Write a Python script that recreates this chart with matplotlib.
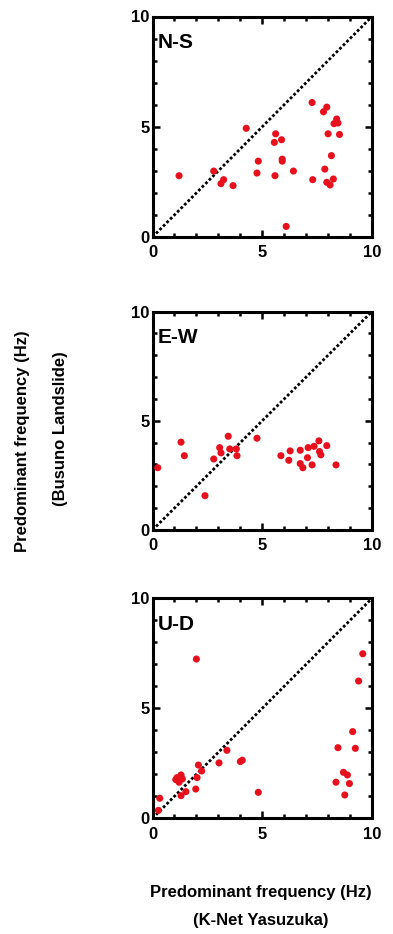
import matplotlib
matplotlib.use("Agg")
import matplotlib.pyplot as plt
from matplotlib.ticker import MultipleLocator

plt.rcParams['font.family'] = ['Liberation Sans', 'DejaVu Sans']

# N-S component
ns_x = [1.21, 2.79, 3.12, 3.24, 3.67, 4.27, 4.76, 4.82, 5.58, 5.55, 5.61, 5.88, 5.91, 5.91,
        6.42, 6.09, 7.27, 7.30, 7.79, 7.94, 8.00, 7.85, 8.15, 8.24, 7.94, 8.09, 8.27, 8.39, 8.45, 8.52]
ns_y = [2.78, 2.99, 2.42, 2.60, 2.33, 4.93, 2.90, 3.44, 2.78, 4.29, 4.68, 4.41, 3.53, 3.44,
        2.99, 0.48, 6.10, 2.60, 5.68, 5.89, 4.68, 3.08, 3.69, 2.63, 2.48, 2.36, 5.14, 5.35, 5.17, 4.65]

# E-W component
ew_x = [0.24, 1.30, 1.45, 2.39, 2.79, 3.06, 3.12, 3.45, 3.52, 3.82, 3.85, 4.76, 5.85, 6.21,
        6.27, 6.73, 6.73, 6.85, 7.06, 7.09, 7.27, 7.36, 7.58, 7.61, 7.67, 7.94, 8.36]
ew_y = [2.85, 4.02, 3.40, 1.57, 3.25, 3.77, 3.53, 4.29, 3.71, 3.71, 3.40, 4.20, 3.40, 3.19,
        3.62, 3.65, 3.04, 2.85, 3.31, 3.77, 2.98, 3.83, 4.08, 3.59, 3.44, 3.86, 2.98]

# U-D component
ud_x = [0.27, 0.33, 1.06, 1.12, 1.21, 1.30, 1.36, 1.30, 1.52, 1.97, 2.03, 2.09, 2.24, 2.00,
        3.03, 3.39, 4.00, 4.09, 4.82, 8.36, 8.45, 8.70, 8.76, 8.88, 8.97, 9.12, 9.24, 9.39, 9.58]
ud_y = [0.36, 0.91, 1.76, 1.85, 1.64, 1.97, 1.79, 1.03, 1.21, 1.33, 1.85, 2.42, 2.15, 7.24,
        2.52, 3.09, 2.58, 2.64, 1.18, 1.64, 3.21, 2.09, 1.06, 1.97, 1.58, 3.94, 3.18, 6.24, 7.48]

labels = ["N-S", "E-W", "U-D"]
xs = [ns_x, ew_x, ud_x]
ys = [ns_y, ew_y, ud_y]
ticks = [0, 5, 10]
tick_labels = ["0", "5", "10"]

W, H = 393, 934
fig = plt.figure(figsize=(W / 100, H / 100), dpi=100)

boxes = [(152.5, 16.5, 372, 237), (152.5, 311.5, 372, 530), (152.5, 598.3, 372, 818.3)]

for (l, t, r, b), lab, x, y in zip(boxes, labels, xs, ys):
    ax = fig.add_axes([l / W, (H - b) / H, (r - l) / W, (b - t) / H])
    ax.set_xlim(0, 10)
    ax.set_ylim(0, 10)
    ax.plot([0, 10], [0, 10], color='black', lw=2.0, linestyle=(0, (1.0, 0.8)), zorder=2)
    ax.scatter(x, y, s=26, color='#e8101c', edgecolors='none', zorder=3)
    ax.set_xticks(ticks)
    ax.set_yticks(ticks)
    ax.set_xticklabels(tick_labels, fontsize=12, fontweight='bold')
    ax.set_yticklabels(tick_labels, fontsize=12, fontweight='bold')
    ax.xaxis.set_minor_locator(MultipleLocator(1))
    ax.yaxis.set_minor_locator(MultipleLocator(1))
    ax.tick_params(which='both', direction='in', top=True, right=True, width=1.8)
    ax.tick_params(which='major', length=5)
    ax.tick_params(axis='x', which='major', pad=6)
    ax.tick_params(axis='y', which='major', pad=2)
    ax.tick_params(which='minor', length=3)
    for s in ax.spines.values():
        s.set_linewidth(2.2)
    ax.text(0.025, 0.925, lab, transform=ax.transAxes, fontsize=15, fontweight='bold',
            ha='left', va='top')

fig.text(23 / W, 1 - 441 / H, "Predominant frequency (Hz)", rotation=90, ha='center', va='center',
         fontsize=12, fontweight='bold')
fig.text(61 / W, 1 - 429 / H, "(Busuno Landslide)", rotation=90, ha='center', va='center',
         fontsize=12, fontweight='bold')
fig.text(261 / W, 1 - 893 / H, "Predominant frequency (Hz)", ha='center', va='center',
         fontsize=12, fontweight='bold')
fig.text(261 / W, 1 - 921 / H, "(K-Net Yasuzuka)", ha='center', va='center',
         fontsize=12, fontweight='bold')

fig.savefig("out.png", dpi=100)
